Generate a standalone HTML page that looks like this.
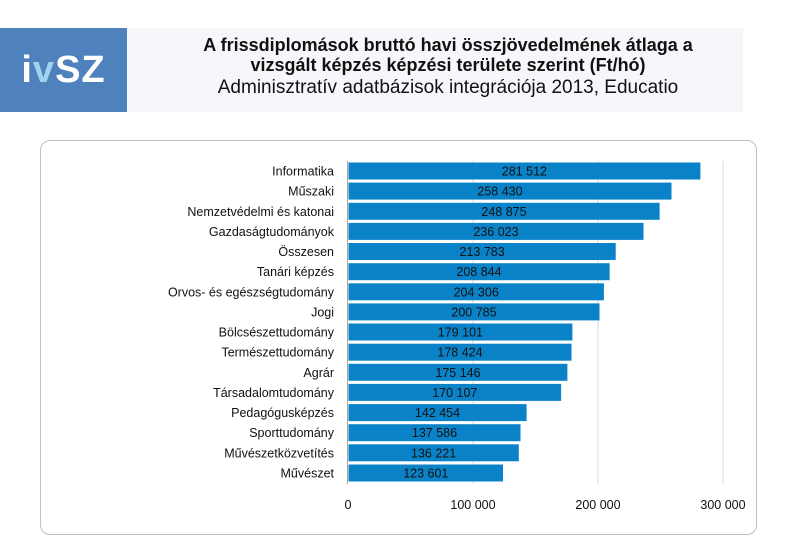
<!DOCTYPE html>
<html><head><meta charset="utf-8"><style>
body{margin:0;width:799px;height:556px;background:#fff;position:relative;font-family:"Liberation Sans",sans-serif;overflow:hidden}
.logo{position:absolute;left:0;top:28px;width:127px;height:84px;background:#4f81bd;color:#fff;font-weight:bold;font-size:38px;line-height:84px;text-align:center;letter-spacing:1px}
.band{position:absolute;left:127px;top:28px;width:616px;height:84px;background:#f6f7fb}
.t{position:absolute;left:127px;width:642px;text-align:center;color:#111}
.box{position:absolute;left:40px;top:140px;width:717px;height:395px;border:1px solid #bfbfbf;border-radius:10px;box-sizing:border-box}
</style></head><body>
<div class="logo"><span>i</span><span style="color:#9fd3f0">v</span>SZ</div>
<div class="band"></div>
<div class="t" style="top:35px;font-size:18px;font-weight:bold;line-height:20px">A frissdiplomások bruttó havi összjövedelmének átlaga a<br>vizsgált képzés képzési területe szerint (Ft/hó)</div>
<div class="t" style="top:77px;font-size:19px;line-height:22px">Adminisztratív adatbázisok integrációja 2013, Educatio</div>
<div class="box"></div>
<svg width="799" height="556" style="position:absolute;left:0;top:0" font-family="Liberation Sans, sans-serif" font-size="12.5">
<g stroke="#d9d9d9" stroke-width="1">
<line x1="473" y1="161" x2="473" y2="484"/><line x1="598" y1="161" x2="598" y2="484"/><line x1="723" y1="161" x2="723" y2="484"/>
</g>
<line x1="347.5" y1="161" x2="347.5" y2="484" stroke="#a6a6a6"/>
<g fill="#0a82c8">
<rect x="348.5" y="162.5" width="351.9" height="17"/>
<rect x="348.5" y="182.6" width="323.0" height="17"/>
<rect x="348.5" y="202.8" width="311.1" height="17"/>
<rect x="348.5" y="222.9" width="295.0" height="17"/>
<rect x="348.5" y="243.0" width="267.2" height="17"/>
<rect x="348.5" y="263.2" width="261.1" height="17"/>
<rect x="348.5" y="283.3" width="255.4" height="17"/>
<rect x="348.5" y="303.4" width="251.0" height="17"/>
<rect x="348.5" y="323.5" width="223.9" height="17"/>
<rect x="348.5" y="343.7" width="223.0" height="17"/>
<rect x="348.5" y="363.8" width="218.9" height="17"/>
<rect x="348.5" y="383.9" width="212.6" height="17"/>
<rect x="348.5" y="404.1" width="178.1" height="17"/>
<rect x="348.5" y="424.2" width="172.0" height="17"/>
<rect x="348.5" y="444.3" width="170.3" height="17"/>
<rect x="348.5" y="464.5" width="154.5" height="17"/>
</g>
<g text-anchor="end" fill="#111">
<text x="334" y="175.5">Informatika</text>
<text x="334" y="195.6">Műszaki</text>
<text x="334" y="215.8">Nemzetvédelmi és katonai</text>
<text x="334" y="235.9">Gazdaságtudományok</text>
<text x="334" y="256.0">Összesen</text>
<text x="334" y="276.2">Tanári képzés</text>
<text x="334" y="296.3">Orvos- és egészségtudomány</text>
<text x="334" y="316.4">Jogi</text>
<text x="334" y="336.5">Bölcsészettudomány</text>
<text x="334" y="356.7">Természettudomány</text>
<text x="334" y="376.8">Agrár</text>
<text x="334" y="396.9">Társadalomtudomány</text>
<text x="334" y="417.1">Pedagógusképzés</text>
<text x="334" y="437.2">Sporttudomány</text>
<text x="334" y="457.3">Művészetközvetítés</text>
<text x="334" y="477.5">Művészet</text>
</g>
<g text-anchor="middle" fill="#111">
<text x="524.4" y="175.5">281 512</text>
<text x="500.0" y="195.6">258 430</text>
<text x="504.0" y="215.8">248 875</text>
<text x="496.0" y="235.9">236 023</text>
<text x="482.1" y="256.0">213 783</text>
<text x="479.0" y="276.2">208 844</text>
<text x="476.2" y="296.3">204 306</text>
<text x="474.0" y="316.4">200 785</text>
<text x="460.4" y="336.5">179 101</text>
<text x="460.0" y="356.7">178 424</text>
<text x="458.0" y="376.8">175 146</text>
<text x="454.8" y="396.9">170 107</text>
<text x="437.5" y="417.1">142 454</text>
<text x="434.5" y="437.2">137 586</text>
<text x="433.6" y="457.3">136 221</text>
<text x="425.8" y="477.5">123 601</text>
<text x="348" y="509">0</text><text x="473" y="509">100 000</text><text x="598" y="509">200 000</text><text x="723" y="509">300 000</text>
</g>
</svg>
</body></html>
